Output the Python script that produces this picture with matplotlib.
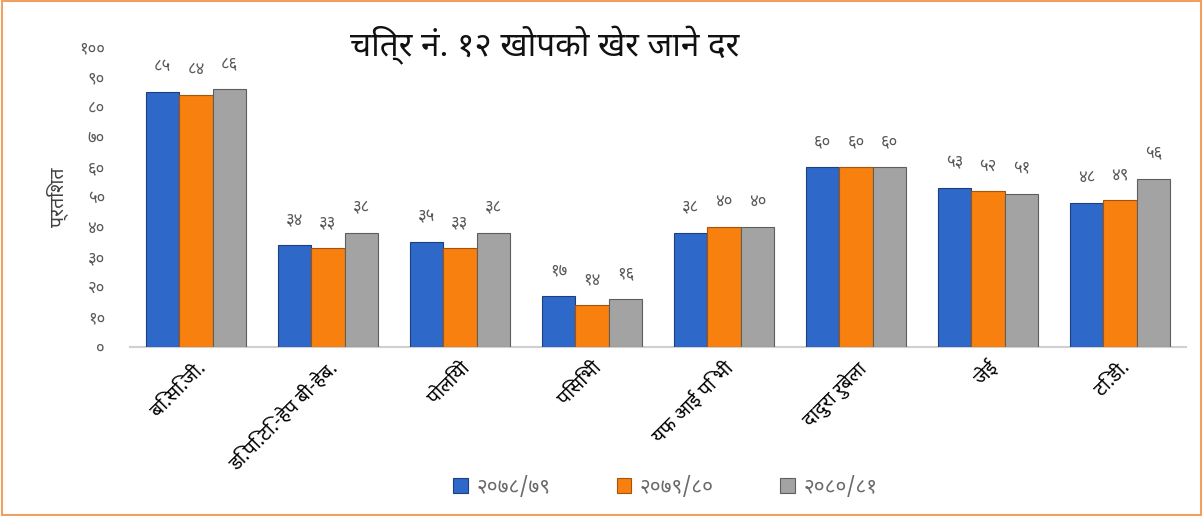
import matplotlib
matplotlib.use("Agg")
import matplotlib.pyplot as plt
from matplotlib import font_manager as fm
from matplotlib.ticker import FuncFormatter, MultipleLocator
from matplotlib.patches import Rectangle
import numpy as np

categories = ["बि.सि.जी.", "डि.पि.टि.-हेप बी-हेब.", "पोलियो", "पिसिभी",
              "यफ आई पि भी", "दादुरा रुबेला", "जेई", "टि.डी."]
series_names = ["२०७८/७९", "२०७९/८०", "२०८०/८१"]
v_7879 = [85, 34, 35, 17, 38, 60, 53, 48]
v_7980 = [84, 33, 33, 14, 40, 60, 52, 49]
v_8081 = [86, 38, 38, 16, 40, 60, 51, 56]
title = "चित्र नं. १२ खोपको खेर जाने दर"
ylabel = "प्रतिशत"

# pick an installed font with Devanagari support
names = {f.name for f in fm.fontManager.ttflist}
prefs = ["Noto Sans Devanagari", "Lohit Devanagari", "Hind", "Mukta", "FreeSans", "Anek Devanagari"]
deva = [n for n in prefs if n in names]
if not deva:
    deva = sorted(n for n in names if "Devanagari" in n)
plt.rcParams["font.family"] = deva[:1] + ["DejaVu Sans"]

DIG = str.maketrans("0123456789", "०१२३४५६७८९")
def np_num(v):
    return str(int(round(v))).translate(DIG)

colors = ["#2E68C9", "#F7800F", "#A3A3A3"]
edges = ["#1C3F80", "#A65208", "#5E5E5E"]

fig = plt.figure(figsize=(12.03, 5.16), dpi=100)
ax = fig.add_axes([130/1203, 1-347/516, (1186-130)/1203, 300/516])

x = np.arange(len(categories))
w = 0.253
series = [v_7879, v_7980, v_8081]
for i, (vals, c, ec, nm) in enumerate(zip(series, colors, edges, series_names)):
    bars = ax.bar(x + (i-1)*w, vals, w, color=c, edgecolor=ec, linewidth=0.8, label=nm, zorder=3)
    for b, v in zip(bars, vals):
        ax.text(b.get_x()+b.get_width()/2, v + 5.5, np_num(v), ha="center", va="bottom",
                fontsize=12, color="#595959")

ax.set_ylim(0, 100)
ax.set_xlim(-0.5, len(categories)-0.5)
ax.yaxis.set_major_locator(MultipleLocator(10))
ax.yaxis.set_major_formatter(FuncFormatter(lambda v, p: np_num(v)))
ax.tick_params(axis="y", length=0, labelsize=12, labelcolor="#595959", pad=18)
ax.set_xticks(x)
ax.set_xticklabels(categories, rotation=45, ha="right", rotation_mode="anchor", fontsize=14)
ax.tick_params(axis="x", length=0, pad=8)
for s in ["top", "right", "left"]:
    ax.spines[s].set_visible(False)
ax.spines["bottom"].set_color("#D0D0D0")
ax.spines["bottom"].set_linewidth(1.5)
ax.set_ylabel(ylabel, fontsize=14, color="#404040", labelpad=8)

fig.text(545/1203, 1-45/516, title, ha="center", va="center", fontsize=24, color="#111111")

leg = fig.legend(loc="center", bbox_to_anchor=(0.553, 1-487/516), ncol=3, frameon=False,
                 fontsize=15, handlelength=0.7, handleheight=0.7, columnspacing=3.2, handletextpad=0.4,
                 labelcolor="#6A6A6A")

fig.patches.append(Rectangle((0.002, 0.002), 0.996, 0.996, transform=fig.transFigure,
                             fill=False, edgecolor="#F0A060", linewidth=1.5))
fig.savefig("out.png", dpi=100)
